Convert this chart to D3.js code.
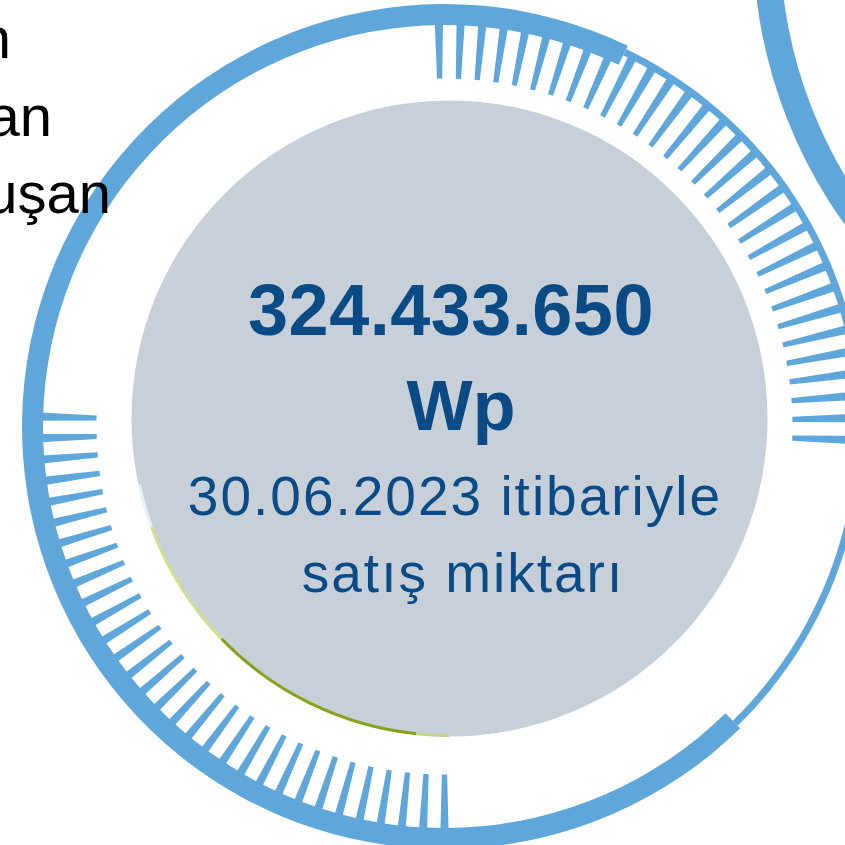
<!DOCTYPE html>
<html>
<head>
<meta charset="utf-8">
<script src="https://cdn.jsdelivr.net/npm/d3@7"></script>
<style>
  html, body { margin: 0; padding: 0; background: #fff; }
  svg { display: block; }
</style>
</head>
<body>
<div id="chart"></div>
<script>
// headline figure and caption
const valueLines = ["324.433.650", "Wp"];
const captionLines = ["30.06.2023 itibariyle", "satış miktarı"];
// text cut off by the left edge of the picture
const sideLabels = ["n", "an", "uşan"];

// two groups of tick bars (degrees, clockwise from top)
const tickStartDeg = [-0.8, 180];
const tickEndDeg = [91.9, 271.4];
const tickCounts = [31, 31];

// outer ring: thin part and thick part (degrees)
const ringStartDeg = [25.7, 135.6];
const ringEndDeg = [135.6, 385.7];
const ringKind = ["thin", "thick"];

// coloured rim on the grey disc (degrees)
const rimStartDeg = [250, 226, 186, 180];
const rimEndDeg = [258, 250, 226, 186];
const rimColors = ["#e2f1f5", "#cfe08f", "#86a21a", "#c4d38e"];

const width = 845, height = 845;
const blue = "#5fa7db";
const navy = "#0a4a85";
const rad = Math.PI / 180;

const svg = d3.select("#chart").append("svg")
  .attr("width", width)
  .attr("height", height);

svg.append("rect").attr("width", width).attr("height", height).attr("fill", "#fff");

// neighbouring ring, top right corner
svg.append("g")
  .attr("transform", "translate(1240,-60)")
  .append("path")
  .attr("d", d3.arc()({ innerRadius: 460, outerRadius: 487, startAngle: 190 * rad, endAngle: 275 * rad }))
  .attr("fill", blue);

// main ring + ticks
const ring = svg.append("g").attr("transform", "translate(444.5,426.5)");

const ringArc = d3.arc();
ring.selectAll("path.ring")
  .data(ringKind)
  .join("path")
  .attr("class", "ring")
  .attr("d", (k, i) => ringArc({
    innerRadius: k === "thick" ? 401.5 : 412,
    outerRadius: k === "thick" ? 422.5 : 419,
    startAngle: ringStartDeg[i] * rad,
    endAngle: ringEndDeg[i] * rad
  }))
  .attr("fill", blue);

const tickShape = d3.lineRadial()
  .angle(d => d[0])
  .radius(d => d[1])
  .curve(d3.curveLinearClosed);

tickCounts.forEach((n, g) => {
  const angle = d3.scaleLinear().domain([0, n - 1]).range([tickStartDeg[g] * rad, tickEndDeg[g] * rad]);
  const wOut = 0.6 * rad, wIn = 0.43 * rad;
  const rOut = 413, rIn = 348;
  ring.append("g").selectAll("path")
    .data(d3.range(n))
    .join("path")
    .attr("d", i => {
      const a = angle(i);
      return tickShape([[a - wOut, rOut], [a + wOut, rOut], [a + wIn, rIn], [a - wIn, rIn]]);
    })
    .attr("fill", blue);
});

// grey disc
const disc = svg.append("g").attr("transform", "translate(449.5,418.5)");
disc.append("circle").attr("r", 318).attr("fill", "#c7cfd9");

const rimArc = d3.arc().innerRadius(315.5).outerRadius(318.5);
disc.selectAll("path.rim")
  .data(rimColors)
  .join("path")
  .attr("class", "rim")
  .attr("d", (c, i) => rimArc({ startAngle: rimStartDeg[i] * rad, endAngle: rimEndDeg[i] * rad }))
  .attr("fill", c => c);

// text in the disc
const font = "'Liberation Sans', Arial, sans-serif";
svg.append("text")
  .attr("x", 451).attr("y", 335)
  .attr("text-anchor", "middle")
  .attr("font-family", font).attr("font-weight", "bold")
  .attr("font-size", 72).attr("letter-spacing", 0.5)
  .attr("fill", navy)
  .text(valueLines[0]);

svg.append("text")
  .attr("x", 461).attr("y", 430)
  .attr("text-anchor", "middle")
  .attr("font-family", font).attr("font-weight", "bold")
  .attr("font-size", 70)
  .attr("fill", navy)
  .text(valueLines[1]);

svg.selectAll("text.caption")
  .data(captionLines)
  .join("text")
  .attr("class", "caption")
  .attr("x", (d, i) => i === 0 ? 455 : 463)
  .attr("y", (d, i) => 515 + i * 77)
  .attr("text-anchor", "middle")
  .attr("font-family", font)
  .attr("font-size", 55).attr("letter-spacing", 2)
  .attr("fill", navy)
  .text(d => d);

// clipped labels on the left
const sideRight = [11, 52, 111];
svg.selectAll("text.side")
  .data(sideLabels)
  .join("text")
  .attr("class", "side")
  .attr("x", (d, i) => sideRight[i])
  .attr("y", (d, i) => 58 + i * 77.5)
  .attr("text-anchor", "end")
  .attr("font-family", font)
  .attr("font-size", 58)
  .attr("fill", "#000")
  .text(d => d);
</script>
</body>
</html>
